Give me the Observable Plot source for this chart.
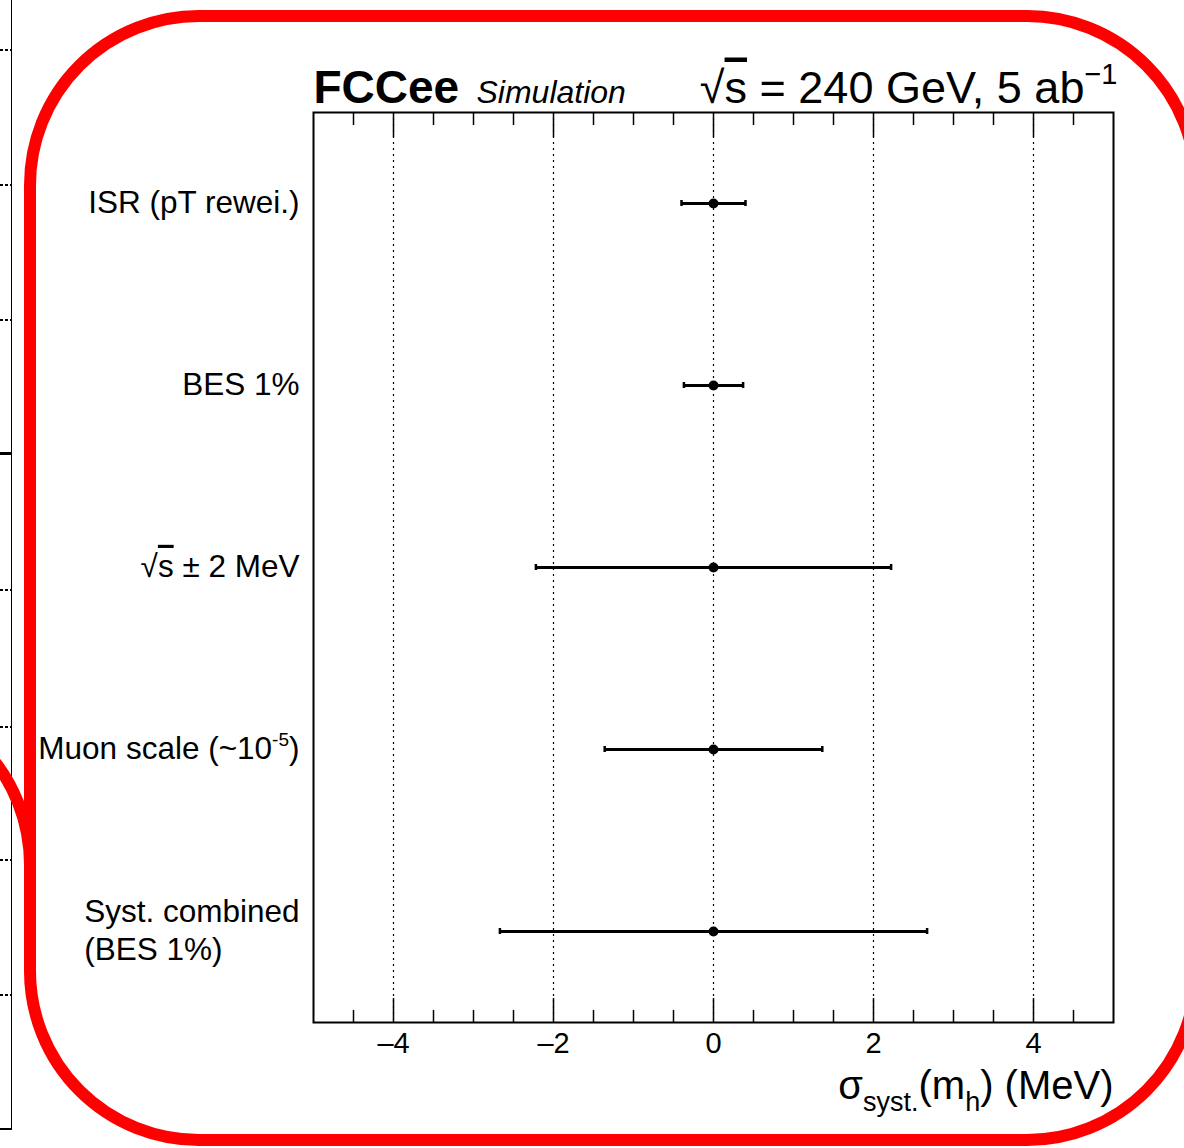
<!DOCTYPE html>
<html>
<head>
<meta charset="utf-8">
<script src="https://cdn.jsdelivr.net/npm/d3@7"></script>
<script src="https://cdn.jsdelivr.net/npm/@observablehq/plot@0.6"></script>
<style>
  html, body { margin: 0; padding: 0; background: #fff; overflow: hidden; }
  #wrap { position: relative; width: 1184px; height: 1148px; overflow: hidden; }
  #chart { position: absolute; left: 0; top: 0; }
  .deco { position: absolute; pointer-events: none; box-sizing: border-box; }
</style>
</head>
<body>
<div id="wrap"><div id="chart"></div></div>
<script>
// ---- data ----
const categories = ["ISR (pT rewei.)", "BES 1%", "√s ± 2 MeV", "Muon scale (~10-5)", "Syst. combined\n(BES 1%)"];
const centralValues = [0, 0, 0, 0, 0];
const errors = [0.40, 0.37, 2.22, 1.36, 2.67];
const majorTicks = [-4, -2, 0, 2, 4];
const minorTicks = [-4.5, -3.5, -3, -2.5, -1.5, -1, -0.5, 0.5, 1, 1.5, 2.5, 3, 3.5, 4.5];
const xDomain = [-5, 5];
const titleBold = "FCCee";
const titleItalic = "Simulation";
const titleRight = "√s = 240 GeV, 5 ab-1";
const xLabel = "σsyst.(mh) (MeV)";

const rows = categories.map((c, i) => ({label: c, value: centralValues[i], err: errors[i]}));
const fmt = d => d < 0 ? "\u2013" + (-d) : String(d);
const FONT = "'Liberation Sans', Arial, Helvetica, sans-serif";

const chart = Plot.plot({
  width: 1184,
  height: 1148,
  marginLeft: 313,
  marginRight: 71,
  marginTop: 112,
  marginBottom: 126,
  style: {fontFamily: FONT, background: "transparent", color: "#000"},
  x: {domain: xDomain, label: null},
  y: {type: "band", domain: categories, padding: 0, axis: null, label: null},
  marks: [
    Plot.ruleX(majorTicks, {x: d => d, stroke: "#000", strokeWidth: 1.2, strokeDasharray: "2,4"}),
    Plot.axisX(minorTicks, {anchor: "bottom", tickSize: -12, strokeWidth: 1.5, tickFormat: () => "", label: null}),
    Plot.axisX(majorTicks, {anchor: "bottom", tickSize: -24, strokeWidth: 1.5, tickFormat: () => "", label: null}),
    Plot.axisX(minorTicks, {anchor: "top", tickSize: -12, strokeWidth: 1.5, tickFormat: () => "", label: null}),
    Plot.axisX(majorTicks, {anchor: "top", tickSize: -24, strokeWidth: 1.5, tickFormat: () => "", label: null}),
    Plot.axisX(majorTicks, {anchor: "bottom", tickSize: 0, tickPadding: 10, fontSize: 29, tickFormat: fmt, label: null}),
    Plot.ruleY(rows, {y: "label", x1: d => d.value - d.err, x2: d => d.value + d.err, stroke: "#000", strokeWidth: 3}),
    Plot.tickX(rows, {y: "label", x: d => d.value - d.err, stroke: "#000", strokeWidth: 2.5, insetTop: 88, insetBottom: 88}),
    Plot.tickX(rows, {y: "label", x: d => d.value + d.err, stroke: "#000", strokeWidth: 2.5, insetTop: 88, insetBottom: 88}),
    Plot.dot(rows, {y: "label", x: "value", r: 5, fill: "#000"}),
    Plot.frame({stroke: "#000", strokeWidth: 2}),
    Plot.text(rows, {y: "label", text: "label", frameAnchor: "left", textAnchor: "end", dx: -14, dy: -3, fontSize: 31.5, lineHeight: 1.22}),
    Plot.text([titleBold], {frameAnchor: "top-left", textAnchor: "start", lineAnchor: "bottom", dy: -10, fontSize: 46, fontWeight: "bold"}),
    Plot.text([titleItalic], {frameAnchor: "top-left", textAnchor: "start", lineAnchor: "bottom", dx: 163, dy: -10, fontSize: 32, fontStyle: "italic"}),
    Plot.text([titleRight], {frameAnchor: "top-right", textAnchor: "end", lineAnchor: "bottom", dx: 4, dy: -10, fontSize: 45}),
    Plot.text([xLabel], {frameAnchor: "bottom-right", textAnchor: "end", lineAnchor: "bottom", dy: 76, fontSize: 40})
  ]
});

document.getElementById("chart").appendChild(chart);
const svg = d3.select(chart);

function setRich(textEl, parts) {
  if (!textEl) return;
  const t = d3.select(textEl);
  t.text("");
  let cur = 0;
  for (const p of parts) {
    const ts = t.append("tspan").text(p.t);
    if (p.size) ts.attr("font-size", p.size);
    const target = p.shift || 0;
    if (target !== cur) ts.attr("dy", target - cur);
    cur = target;
    if (p.over) ts.attr("text-decoration", "overline").style("text-decoration-thickness", "2px");
  }
}
function findText(prefix) {
  return svg.selectAll("text").filter(function() { return this.textContent.startsWith(prefix); }).node();
}

setRich(findText("√s = 240"), [
  {t: "√"}, {t: "s", over: true}, {t: " = 240 GeV, 5 ab"}, {t: "\u22121", size: 29, shift: -19}
]);
setRich(findText("σsyst"), [
  {t: "σ"}, {t: "syst.", size: 27, shift: 12}, {t: "(m", shift: 0}, {t: "h", size: 27, shift: 12}, {t: ") (MeV)", shift: 0}
]);
setRich(findText("Muon scale"), [{t: "Muon scale (~10"}, {t: "-5", size: 19, shift: -13}, {t: ")", shift: 0}]);
setRich(findText("√s ± 2"), [{t: "√"}, {t: "s", over: true}, {t: " ± 2 MeV"}]);

// two-line label: left-align the lines as a block
const multi = findText("Syst. combined");
if (multi) {
  const tspans = d3.select(multi).selectAll("tspan").nodes();
  if (tspans.length) {
    const w = d3.max(tspans, n => n.getComputedTextLength());
    d3.select(multi).attr("text-anchor", "start");
    tspans.forEach(n => n.setAttribute("x", -w));
  }
}

// ---- decorative overlays (annotation outline and neighbouring panel edge) ----
const wrap = document.getElementById("wrap");
function deco(css) { const d = document.createElement("div"); d.className = "deco"; Object.assign(d.style, css); wrap.appendChild(d); return d; }
// neighbouring panel frame
deco({left: "-20px", top: "-5px", width: "32px", height: "1135px", borderRight: "1.5px solid #000", borderBottom: "2px solid #000"});
[50, 185, 320, 590, 727, 860, 995].forEach(y => deco({left: "0px", top: (y - 1) + "px", width: "11px", height: "2px",
  background: "repeating-linear-gradient(to right, #000 0 3px, transparent 3px 5px)"}));
deco({left: "0px", top: "452px", width: "11px", height: "3px", background: "#000"});
// red annotation outlines
deco({left: "-328px", top: "690px", width: "364px", height: "700px", border: "12px solid #ff0000", borderRadius: "175px", clipPath: "inset(0 0 480px 0)"});
deco({left: "24px", top: "10px", width: "1178px", height: "1136px", border: "12px solid #ff0000", borderRadius: "175px"});
</script>
</body>
</html>
